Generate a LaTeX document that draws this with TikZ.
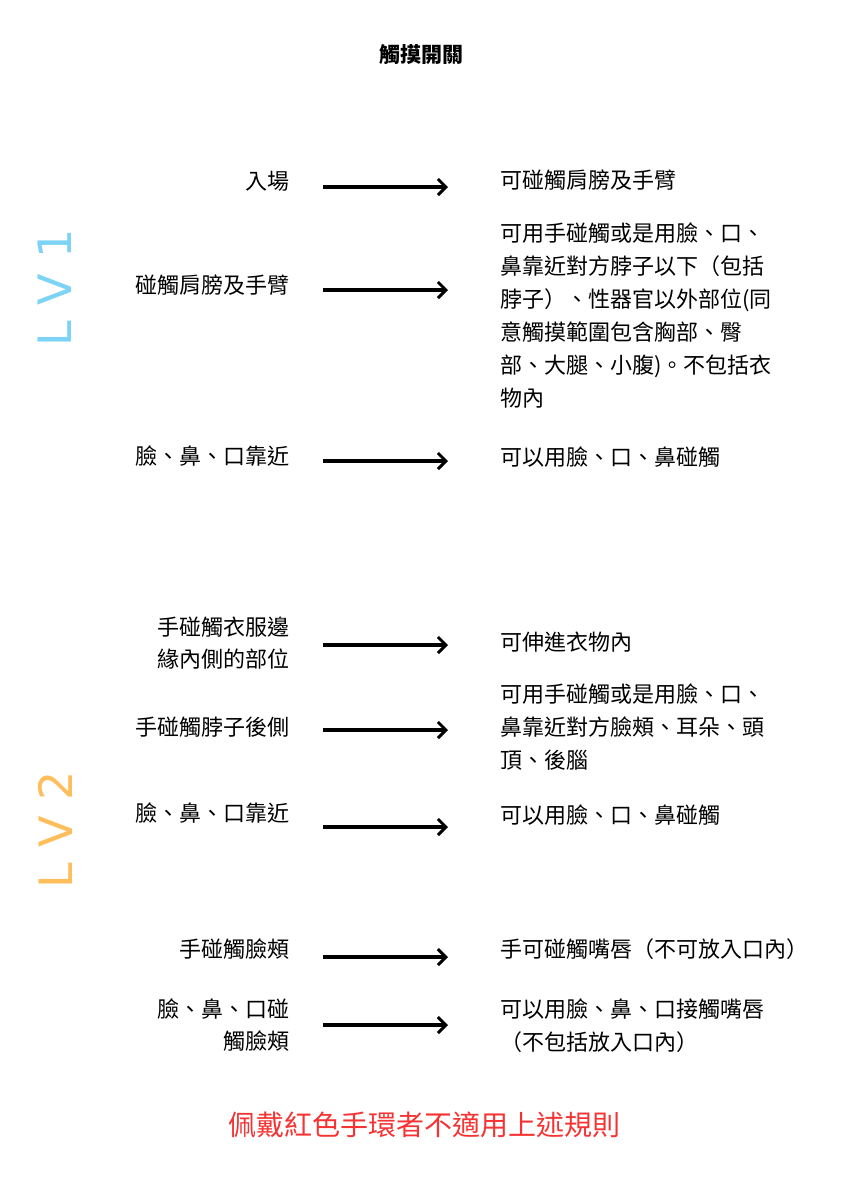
\documentclass[tikz,border=0pt]{standalone}
\usepackage{fontspec}
\setmainfont{Noto Sans CJK TC}
\newfontfamily\lvfont{DejaVu Sans}
\usetikzlibrary{arrows.meta}
\definecolor{lvblue}{HTML}{7DD3F5}
\definecolor{lvorange}{HTML}{FFBE5C}
\definecolor{footred}{HTML}{F53333}
\begin{document}
\begin{tikzpicture}[x=1pt,y=-1pt,
  lab/.style={anchor=north east,align=right,font=\fontsize{22}{32}\selectfont,inner sep=0pt},
  res/.style={anchor=north west,align=left,font=\fontsize{22}{33}\selectfont,inner sep=0pt},
  arr/.style={line width=3.4pt,-{Straight Barb[length=8pt,width=16pt,line width=3pt]}}]
\useasboundingbox (0,0) rectangle (848,1200);
\node[font=\bfseries\fontsize{21}{24}\selectfont] (title) at (421,55) {觸摸開關};
\node[rotate=90,font=\lvfont\fontsize{46}{50}\selectfont,text=lvblue] (lv1) at (55,288) {L\,\,V\,\,1};
\node[rotate=90,font=\lvfont\fontsize{46}{50}\selectfont,text=lvorange] (lv2) at (55,830) {L\,\,V\,\,2};
\foreach \n/\y/\t in {a/171/入場,b/275/碰觸肩膀及手臂,c/446/臉、鼻、口靠近,d/617/{手碰觸衣服邊\\緣內側的部位},e/717/手碰觸脖子後側,f/803/臉、鼻、口靠近,g/939/手碰觸臉頰,h/999/{臉、鼻、口碰\\觸臉頰}}
  \node[lab] (l\n) at (290,\y) {\t};
\foreach \n/\y/\t in {a/170/可碰觸肩膀及手臂,b/223/{可用手碰觸或是用臉、口、\\鼻靠近對方脖子以下（包括\\脖子）、性器官以外部位(同\\意觸摸範圍包含胸部、臀\\部、大腿、小腹)。不包括衣\\物內},c/447/可以用臉、口、鼻碰觸,d/632/可伸進衣物內,e/684/{可用手碰觸或是用臉、口、\\鼻靠近對方臉頰、耳朵、頭\\頂、後腦},f/805/可以用臉、口、鼻碰觸,g/938/手可碰觸嘴唇（不可放入口內）,h/999/{可以用臉、鼻、口接觸嘴唇\\（不包括放入口內）}}
  \node[res] (r\n) at (500,\y) {\t};
\foreach \n/\y in {a/187,b/290,c/461,d/645,e/730,f/827,g/957,h/1025}{
  \coordinate (s\n) at (323,\y); \coordinate (e\n) at (448,\y);
  \draw[arr] (s\n) -- (e\n);}
\node[text=footred,font=\fontsize{28}{30}\selectfont] (foot) at (424,1125) {佩戴紅色手環者不適用上述規則};
\end{tikzpicture}
\end{document}
